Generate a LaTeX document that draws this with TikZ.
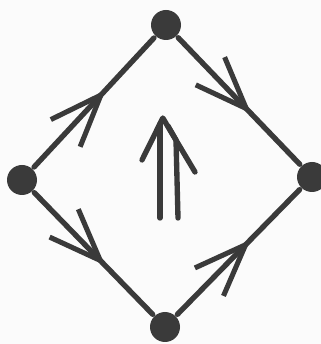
\documentclass[tikz,border=0pt]{standalone}
\usepackage{tikz}
\usetikzlibrary{arrows.meta,decorations.markings}
\definecolor{ink}{HTML}{3A3A3A}
\definecolor{paper}{HTML}{FBFBFB}

\begin{document}
\begin{tikzpicture}[
  line width=3.8pt, line cap=round, line join=round,
  dot/.style={circle, fill=ink, inner sep=0pt, minimum size=7.5mm},
  edge/.style={draw=ink, postaction={decorate}, decoration={markings,
               mark=at position 0.6 with {\arrow[ink, line width=3.6pt]{Straight Barb[length=13mm, width=10mm]}}}}]
\fill[paper] (0,0) rectangle (8.025,8.6);
\useasboundingbox (0,0) rectangle (8.025,8.6);
\node[dot] (top) at (4.15,7.975) {};
\node[dot] (right) at (7.8,4.175) {};
\node[dot] (left) at (0.55,4.1) {};
\node[dot] (bottom) at (4.125,0.425) {};
\draw[edge] (left) -- (top);
\draw[edge] (top) -- (right);
\draw[edge] (left) -- (bottom);
\draw[edge] (bottom) -- (right);
% the double arrow in the middle
\coordinate (tip) at (4.07,5.65);
\draw[ink] (3.55,4.6) -- (tip) -- (4.875,4.3);
\draw[ink] (4.0,3.15) -- (4.0,5.5);
\draw[ink] (4.45,3.15) -- (4.4,5.1) -- (4.2,5.45);
\end{tikzpicture}
\end{document}
